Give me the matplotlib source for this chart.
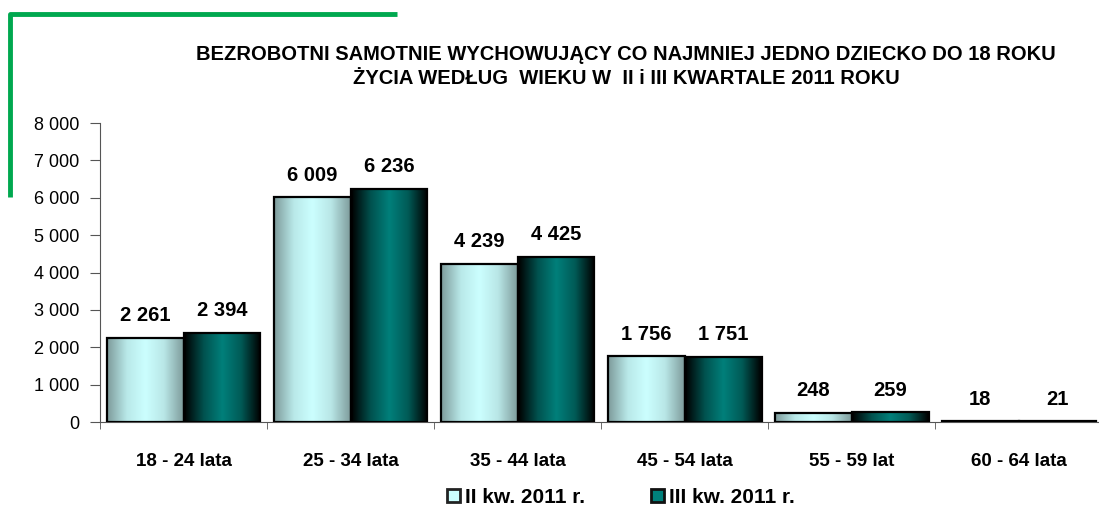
import matplotlib
matplotlib.use("Agg")
import matplotlib.pyplot as plt
import numpy as np
from matplotlib.colors import LinearSegmentedColormap
from matplotlib.lines import Line2D
from matplotlib.patches import Patch

plt.rcParams['font.family'] = ['Liberation Sans', 'DejaVu Sans']

categories = ["18 - 24 lata", "25 - 34 lata", "35 - 44 lata", "45 - 54 lata", "55 - 59 lat", "60 - 64 lata"]
q2_values = [2261, 6009, 4239, 1756, 248, 18]
q3_values = [2394, 6236, 4425, 1751, 259, 21]
series_names = ["II kw. 2011 r.", "III kw. 2011 r."]
yticks = [0, 1000, 2000, 3000, 4000, 5000, 6000, 7000, 8000]

light_cmap = LinearSegmentedColormap.from_list("light", ["#7f9c9c", "#b8e8e8", "#ccffff", "#b8e6e6", "#7f9c9c"])
dark_cmap = LinearSegmentedColormap.from_list("dark", ["#000000", "#00514e", "#00807b", "#005a56", "#000000"])


def fmt(v):
    return "{:,}".format(v).replace(",", " ")


fig = plt.figure(figsize=(10.99, 5.18), dpi=100)
ax = fig.add_axes([0.091, 0.1853, 0.912, 0.5772])

x = np.arange(len(categories))
w = 0.46
grad = np.linspace(0, 1, 64).reshape(1, -1)

for vals, off, cmap in [(q2_values, -w / 2, light_cmap), (q3_values, w / 2, dark_cmap)]:
    bars = ax.bar(x + off, vals, width=w, facecolor="none", edgecolor="black", linewidth=1.6, zorder=3)
    for b, v in zip(bars, vals):
        x0, y0 = b.get_xy()
        ax.imshow(grad, extent=[x0, x0 + b.get_width(), y0, y0 + b.get_height()],
                  aspect="auto", cmap=cmap, zorder=2, interpolation="bicubic")
        ax.annotate(fmt(v), (x0 + b.get_width() / 2, v), xytext=(0, 16), textcoords="offset points",
                    ha="center", va="center", fontsize=14.5, fontweight="bold")

ax.set_xlim(-0.5, len(categories) - 0.5)
ax.set_ylim(0, 8000)
ax.set_yticks(yticks)
ax.set_yticklabels([fmt(t) for t in yticks], fontsize=13)
ax.set_xticks(x)
ax.set_xticklabels(categories, fontsize=13.5, fontweight="bold")
ax.tick_params(axis="x", length=0, pad=22)
ax.set_xticks(np.arange(len(categories) + 1) - 0.5, minor=True)
ax.tick_params(axis="x", which="minor", length=5, color="#555555")
ax.tick_params(axis="y", length=7, color="#555555", pad=8)
for s in ["top", "right"]:
    ax.spines[s].set_visible(False)
ax.spines["left"].set_color("#555555")
ax.spines["bottom"].set_color("#555555")

fig.text(0.5696, 0.8716, "BEZROBOTNI SAMOTNIE WYCHOWUJĄCY CO NAJMNIEJ JEDNO DZIECKO DO 18 ROKU\nŻYCIA WEDŁUG  WIEKU W  II i III KWARTALE 2011 ROKU",
         ha="center", va="center", fontsize=14.5, fontweight="bold", linespacing=1.35)

handles = [Patch(facecolor="#ccffff", edgecolor="#222222", linewidth=2),
           Patch(facecolor="#00807b", edgecolor="#111111", linewidth=2)]
fig.legend(handles, series_names, loc="center", bbox_to_anchor=(0.565, 0.04), ncol=2,
           frameon=False, prop={"size": 15, "weight": "bold"}, handlelength=0.6, handleheight=0.6,
           handletextpad=0.25, columnspacing=3.2)

fig.add_artist(Line2D([10 / 1099, 10 / 1099, 397 / 1099], [1 - 197 / 518, 1 - 14 / 518, 1 - 14 / 518],
                      color="#00a84f", linewidth=3.5, transform=fig.transFigure, solid_capstyle="butt"))

fig.savefig("out.png", dpi=100)
